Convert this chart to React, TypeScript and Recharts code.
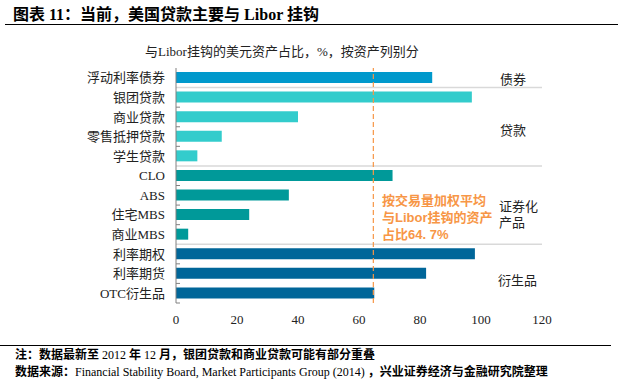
import React from 'react';
import {
  BarChart,
  Bar,
  XAxis,
  YAxis,
  Cell,
  ReferenceLine,
} from 'recharts';

const categories = [
  '浮动利率债券',
  '银团贷款',
  '商业贷款',
  '零售抵押贷款',
  '学生贷款',
  'CLO',
  'ABS',
  '住宅MBS',
  '商业MBS',
  '利率期权',
  '利率期货',
  'OTC衍生品',
];
const shares = [84, 97, 40, 15, 7, 71, 37, 24, 4, 98, 82, 65];
const groupOf = ['债券', '贷款', '贷款', '贷款', '贷款', '证券化', '证券化', '证券化', '证券化', '衍生品', '衍生品', '衍生品'];
const groupColors: Record<string, string> = {
  债券: '#0099CC',
  贷款: '#33CCCC',
  证券化: '#009999',
  衍生品: '#006699',
};
const groupStarts = ['银团贷款', 'CLO', '利率期权'];
const xTicks = [0, 20, 40, 60, 80, 100, 120];
const weightedAvg = 64.7;

const data = categories.map((name, i) => ({ name, value: shares[i], group: groupOf[i] }));

const serif = '"Liberation Serif", "Times New Roman", "Noto Sans CJK SC", serif';
const sans = '"Liberation Sans", "Noto Sans CJK SC", sans-serif';

const abs = (left: number, top: number, extra: React.CSSProperties = {}): React.CSSProperties => ({
  position: 'absolute',
  left,
  top,
  whiteSpace: 'nowrap',
  ...extra,
});

// category label plus the little boundary tick on the axis
const CategoryTick = (props: any) => {
  const { x, y, payload, index } = props;
  const half = payload.offset || 0;
  const axisX = x + 11;
  const last = index === categories.length - 1;
  return (
    <g>
      <text x={x} y={y} dy="0.35em" textAnchor="end" fill="#222" fontSize={13} fontFamily={serif}>
        {payload.value}
      </text>
      {index > 0 && groupStarts.indexOf(payload.value) < 0 && (
        <line x1={axisX} x2={axisX + 4} y1={y - half} y2={y - half} stroke="#808080" />
      )}
      {last && <line x1={axisX} x2={axisX + 4} y1={y + half} y2={y + half} stroke="#808080" />}
    </g>
  );
};

const App: React.FC = () => {
  return (
    <div style={{ position: 'absolute', left: 0, top: 0, width: 618, height: 384, background: '#fff', fontFamily: serif }}>
      <div style={abs(13, 4, { fontSize: 16, fontWeight: 'bold', color: '#000', lineHeight: '22px' })}>
        图表 11：当前，美国贷款主要与 Libor 挂钩
      </div>
      <div style={{ position: 'absolute', left: 5, top: 24, width: 613, height: 0, borderTop: '1.5px solid #000' }} />

      <div style={abs(145, 43, { fontSize: 13, color: '#222', lineHeight: '18px' })}>
        与Libor挂钩的美元资产占比，%，按资产列别分
      </div>

      <BarChart
        width={618}
        height={384}
        layout="vertical"
        data={data}
        margin={{ top: 68, right: 76, bottom: 51, left: 6 }}
        barSize={11}
      >
        <XAxis
          xAxisId="top"
          type="number"
          orientation="top"
          domain={[0, 120]}
          ticks={xTicks}
          height={0}
          mirror
          tick={false}
          tickSize={4}
          axisLine={{ stroke: '#808080' }}
          tickLine={{ stroke: '#808080' }}
        />
        <XAxis
          type="number"
          domain={[0, 120]}
          ticks={xTicks}
          height={30}
          axisLine={false}
          tickLine={false}
          tickSize={0}
          tickMargin={12}
          tick={{ fill: '#222', fontSize: 13, fontFamily: serif }}
        />
        <YAxis
          type="category"
          dataKey="name"
          width={170}
          interval={0}
          axisLine={{ stroke: '#808080' }}
          tickLine={false}
          tickSize={0}
          tickMargin={11}
          tick={<CategoryTick />}
        />
        {groupStarts.map((c) => (
          <ReferenceLine key={c} y={c} position="start" stroke="#D9D9D9" strokeWidth={1.5} />
        ))}
        <Bar dataKey="value" isAnimationActive={false}>
          {data.map((d) => (
            <Cell key={d.name} fill={groupColors[d.group]} />
          ))}
        </Bar>
        <ReferenceLine x={weightedAvg} stroke="#F79646" strokeWidth={1.2} strokeDasharray="5 3" />
      </BarChart>

      <div style={{ position: 'absolute', left: 0, top: 0, pointerEvents: 'none', fontSize: 13, color: '#222', lineHeight: '16px' }}>
        <div style={abs(500, 72)}>债券</div>
        <div style={abs(500, 123)}>贷款</div>
        <div style={abs(499, 199)}>证券化</div>
        <div style={abs(499, 215)}>产品</div>
        <div style={abs(498, 273)}>衍生品</div>
      </div>

      <div style={abs(382, 192, { fontFamily: sans, fontWeight: 'bold', fontSize: 13, color: '#F79646', lineHeight: '17px' })}>
        按交易量加权平均
        <br />
        与Libor挂钩的资产
        <br />
        占比64. 7%
      </div>

      <div style={{ position: 'absolute', left: 0, top: 345, width: 611, height: 0, borderTop: '1.5px solid #000' }} />
      <div style={abs(15, 347, { fontSize: 12, color: '#000', lineHeight: '17px' })}>
        <span style={{ fontWeight: 'bold' }}>注：数据最新至</span> 2012 <span style={{ fontWeight: 'bold' }}>年</span> 12{' '}
        <span style={{ fontWeight: 'bold' }}>月，银团贷款和商业贷款可能有部分重叠</span>
        <br />
        <span style={{ fontWeight: 'bold' }}>数据来源：</span>Financial Stability Board, Market Participants Group (2014)
        <span style={{ fontWeight: 'bold' }}> ，兴业证券经济与金融研究院整理</span>
      </div>
    </div>
  );
};

export default App;
